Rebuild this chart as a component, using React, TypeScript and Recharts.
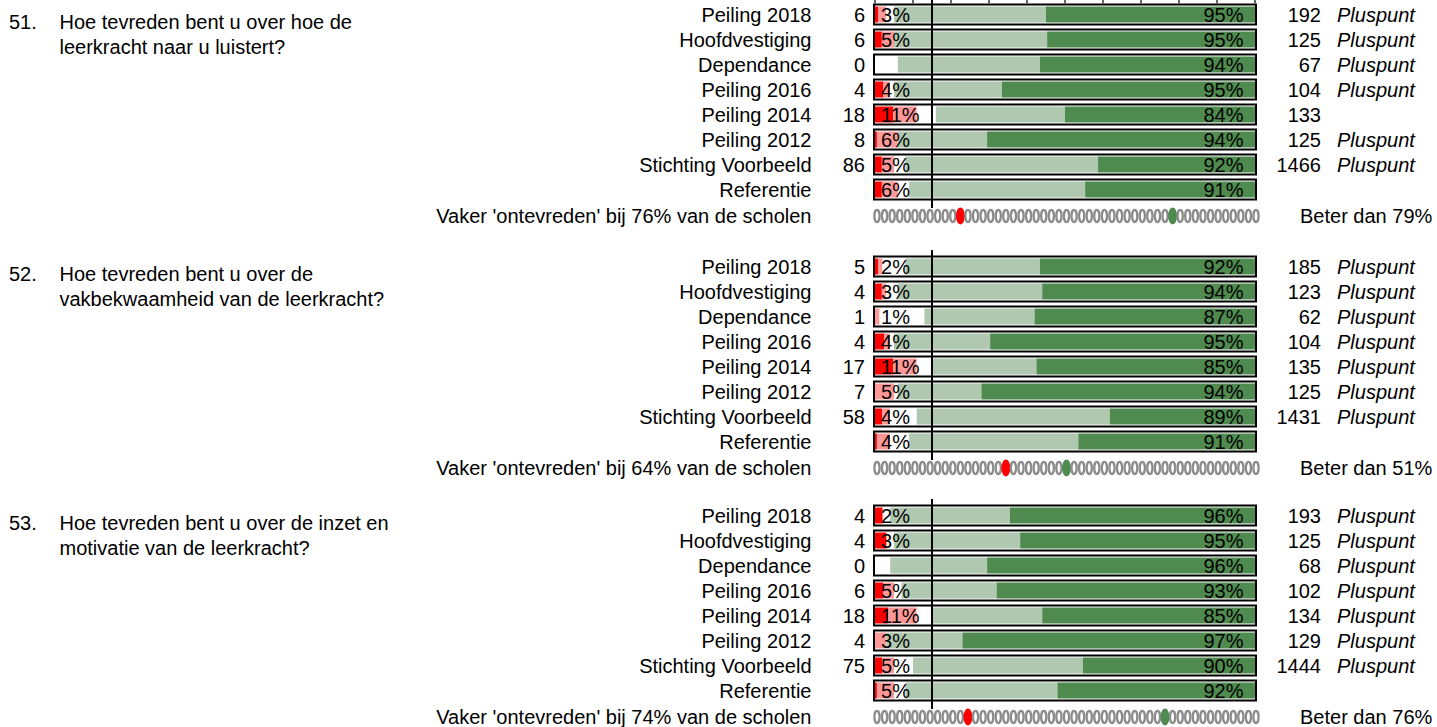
import React from "react";
import {
  BarChart,
  Bar,
  XAxis,
  YAxis,
  ReferenceLine,
  LabelList,
  ScatterChart,
  Scatter,
} from "recharts";

const FONT = "'Liberation Sans', Arial, Helvetica, sans-serif";
const RED = "#ff0000";
const PINK = "#ff9999";
const LIGHT = "#b0c8b0";
const DARK = "#4f8a4f";
const DOT_GREY = "#8c8c8c";

const rowLabels = [
  "Peiling 2018",
  "Hoofdvestiging",
  "Dependance",
  "Peiling 2016",
  "Peiling 2014",
  "Peiling 2012",
  "Stichting Voorbeeld",
  "Referentie",
];
const axisTicks = [0, 10, 20, 30, 40, 50, 60, 70, 80, 90, 100];
const schoolCount = 51;

// vraag 51
const q51Lines = ["Hoe tevreden bent u over hoe de", "leerkracht naar u luistert?"];
const q51Counts = [6, 6, 0, 4, 18, 8, 86, null];
const q51VeryDis = [0.8, 1.8, 0, 2.2, 4.8, 0.5, 1.8, 1.8];
const q51Dis = [2.2, 3.2, 0, 1.8, 6.2, 5.5, 3.2, 4.2];
const q51Neutral = [2, 0, 6, 1, 5, 0, 3, 3];
const q51Sat = [40, 40.3, 37.4, 28.4, 34, 23.5, 50.7, 46.3];
const q51VerySat = [55, 54.7, 56.6, 66.6, 50, 70.5, 41.3, 44.7];
const q51N = [192, 125, 67, 104, 133, 125, 1466, null];
const q51Plus = ["Pluspunt", "Pluspunt", "Pluspunt", "Pluspunt", "", "Pluspunt", "Pluspunt", ""];

// vraag 52
const q52Lines = ["Hoe tevreden bent u over de", "vakbekwaamheid van de leerkracht?"];
const q52Counts = [5, 4, 1, 4, 17, 7, 58, null];
const q52VeryDis = [0.8, 1.8, 0, 2.4, 4.8, 0, 1.9, 0.5];
const q52Dis = [1.2, 1.2, 1.2, 1.6, 6.2, 5, 2.1, 3.5];
const q52Neutral = [6, 3, 11.8, 1, 4, 1, 7, 5];
const q52Sat = [35.4, 38, 29, 25.3, 27.5, 22, 50.8, 44.5];
const q52VerySat = [56.6, 56, 58, 69.7, 57.5, 72, 38.2, 46.5];
const q52N = [185, 123, 62, 104, 135, 125, 1431, null];
const q52Plus = ["Pluspunt", "Pluspunt", "Pluspunt", "Pluspunt", "Pluspunt", "Pluspunt", "Pluspunt", ""];

// vraag 53
const q53Lines = ["Hoe tevreden bent u over de inzet en", "motivatie van de leerkracht?"];
const q53Counts = [4, 4, 0, 6, 18, 4, 75, null];
const q53VeryDis = [2, 3, 0, 2.2, 3.5, 0, 1.9, 0.5];
const q53Dis = [0.2, 0.2, 0, 2.8, 7.5, 3, 3.1, 4.5];
const q53Neutral = [1.8, 1.8, 4, 2, 4, 0, 5, 3];
const q53Sat = [31.5, 33.2, 25.5, 25, 29, 20, 44.7, 40];
const q53VerySat = [64.5, 61.8, 70.5, 68, 56, 77, 45.3, 52];
const q53N = [193, 125, 68, 102, 134, 129, 1444, null];
const q53Plus = ["Pluspunt", "Pluspunt", "Pluspunt", "Pluspunt", "Pluspunt", "Pluspunt", "Pluspunt", ""];

const txt = { fontFamily: FONT, fontSize: 20, fill: "#000" };

function rectOf(p: any) {
  return p.viewBox && p.viewBox.width !== undefined ? p.viewBox : p;
}

function BoxShape(p: any) {
  return (
    <rect
      x={p.x - 1}
      y={p.y - 2}
      width={p.width + 2}
      height={p.height + 4}
      fill="none"
      stroke="#000"
      strokeWidth={2}
    />
  );
}

// label 'ontevreden' hangs on the pink bar, moved back to the start of the row
function OnteLabel(p: any) {
  const row = p.value;
  if (!row || typeof row !== "object" || !row.onte || !row.dis) return null;
  const r = rectOf(p);
  const unit = r.width / row.dis;
  const left = r.x - row.veryDis * unit;
  return (
    <text x={left + 6} y={r.y + r.height / 2 + 7.6} {...txt}>
      {row.onte}%
    </text>
  );
}

function TevrLabel(p: any) {
  const r = rectOf(p);
  return (
    <text x={r.x + r.width - 11.5} y={r.y + r.height / 2 + 7.6} textAnchor="end" {...txt}>
      {p.value}%
    </text>
  );
}

function NLabel(p: any) {
  if (p.value == null) return null;
  const r = rectOf(p);
  return (
    <text x={r.x + r.width + 66} y={r.y + r.height / 2 + 7.6} textAnchor="end" {...txt}>
      {p.value}
    </text>
  );
}

function PlusLabel(p: any) {
  if (!p.value) return null;
  const r = rectOf(p);
  return (
    <text x={r.x + r.width + 82} y={r.y + r.height / 2 + 7.6} fontStyle="italic" {...txt}>
      {p.value}
    </text>
  );
}

function TopTick(p: any) {
  return <line x1={p.x} x2={p.x} y1={p.y + 2} y2={p.y + 5.3} stroke="#000" strokeWidth={1.2} />;
}

function DotShape(p: any) {
  const kind = p.payload.kind;
  if (kind === "grey") {
    return <ellipse cx={p.cx} cy={p.cy} rx={2.6} ry={6.1} fill="none" stroke={DOT_GREY} strokeWidth={2.3} />;
  }
  return <ellipse cx={p.cx} cy={p.cy} rx={4.5} ry={8.5} fill={kind === "red" ? RED : DARK} />;
}

interface QuestionProps {
  top: number;
  num: number;
  lines: string[];
  counts: (number | null)[];
  veryDis: number[];
  dis: number[];
  neutral: number[];
  sat: number[];
  verySat: number[];
  n: (number | null)[];
  plus: string[];
  vaker: number;
  beter: number;
  redDot: number;
  greenDot: number;
  showTicks?: boolean;
}

function Question(q: QuestionProps) {
  const rows = rowLabels.map((name, i) => ({
    name,
    count: q.counts[i],
    veryDis: q.veryDis[i],
    dis: q.dis[i],
    neutral: q.neutral[i],
    sat: q.sat[i],
    verySat: q.verySat[i],
    n: q.n[i],
    plus: q.plus[i],
    onte: Math.round(q.veryDis[i] + q.dis[i]),
    tevr: Math.round(q.sat[i] + q.verySat[i]),
  }));

  const dots = Array.from({ length: schoolCount }, (_, i) => ({
    pos: i,
    y: 0,
    kind: i === q.redDot ? "red" : i === q.greenDot ? "green" : "grey",
  }));

  const RowTick = (p: any) => {
    const row = rows.find((r) => r.name === p.payload.value);
    return (
      <g>
        <text x={811.5} y={p.y + 7.6} textAnchor="end" {...txt}>
          {p.payload.value}
        </text>
        {row && row.count != null && (
          <text x={p.x - 10} y={p.y + 7.6} textAnchor="end" {...txt}>
            {row.count}
          </text>
        )}
      </g>
    );
  };

  const htmlText: React.CSSProperties = {
    position: "absolute",
    fontFamily: FONT,
    fontSize: 20,
    lineHeight: "25px",
    color: "#000",
    whiteSpace: "nowrap",
  };

  return (
    <div style={{ position: "absolute", left: 0, top: q.top, width: 1437, height: 251 }}>
      <div style={{ ...htmlText, left: 9, top: 9.5 }}>{q.num}.</div>
      <div style={{ ...htmlText, left: 59.5, top: 9.5 }}>
        {q.lines.map((l) => (
          <div key={l}>{l}</div>
        ))}
      </div>

      <div style={{ position: "absolute", left: 0, top: -4 }}>
        <BarChart
          layout="vertical"
          width={1437}
          height={216}
          data={rows}
          margin={{ top: 0, right: 182, bottom: 4, left: 0 }}
        >
          <XAxis
            type="number"
            orientation="top"
            domain={[0, 100]}
            allowDataOverflow
            ticks={axisTicks}
            height={2}
            axisLine={false}
            tickLine={false}
            tickSize={0}
            tickMargin={0}
            tick={q.showTicks ? TopTick : false}
          />
          <YAxis
            type="category"
            dataKey="name"
            width={875}
            axisLine={false}
            tickLine={false}
            tickSize={0}
            tickMargin={0}
            interval={0}
            padding={{ top: 3.5, bottom: 6.5 }}
            tick={RowTick}
          />
          <Bar dataKey="veryDis" stackId="s" fill={RED} barSize={16} isAnimationActive={false} />
          <Bar dataKey="dis" stackId="s" fill={PINK} barSize={16} isAnimationActive={false}>
            <LabelList dataKey={(d: any) => d} content={OnteLabel} />
          </Bar>
          <Bar dataKey="neutral" stackId="s" fill="#ffffff" barSize={16} isAnimationActive={false} />
          <Bar dataKey="sat" stackId="s" fill={LIGHT} barSize={16} isAnimationActive={false} />
          <Bar
            dataKey="verySat"
            stackId="s"
            fill={DARK}
            barSize={16}
            isAnimationActive={false}
            background={BoxShape}
          >
            <LabelList dataKey="tevr" content={TevrLabel} />
            <LabelList dataKey="n" content={NLabel} />
            <LabelList dataKey="plus" content={PlusLabel} />
          </Bar>
          <ReferenceLine x={15} stroke="#000" strokeWidth={2} />
        </BarChart>
      </div>

      <div style={{ ...htmlText, lineHeight: "20px", left: 0, width: 811.5, textAlign: "right", top: 205.8 }}>
        Vaker 'ontevreden' bij {q.vaker}% van de scholen
      </div>
      <div style={{ ...htmlText, lineHeight: "20px", left: 1300, top: 205.8 }}>Beter dan {q.beter}%</div>

      <div style={{ position: "absolute", left: 0, top: 204.3 }}>
        <ScatterChart width={1437} height={24} margin={{ top: 0, right: 181, bottom: 0, left: 877 }}>
          <XAxis type="number" dataKey="pos" domain={[0, schoolCount - 1]} hide />
          <YAxis type="number" dataKey="y" domain={[-1, 1]} hide />
          <Scatter data={dots} shape={DotShape} isAnimationActive={false} />
        </ScatterChart>
      </div>
    </div>
  );
}

export default function App() {
  return (
    <div
      style={{
        position: "absolute",
        left: 0,
        top: 0,
        width: 1437,
        height: 727,
        background: "#fff",
        overflow: "hidden",
      }}
    >
      <Question
        top={0}
        num={51}
        lines={q51Lines}
        counts={q51Counts}
        veryDis={q51VeryDis}
        dis={q51Dis}
        neutral={q51Neutral}
        sat={q51Sat}
        verySat={q51VerySat}
        n={q51N}
        plus={q51Plus}
        vaker={76}
        beter={79}
        redDot={11}
        greenDot={39}
        showTicks
      />
      <Question
        top={252}
        num={52}
        lines={q52Lines}
        counts={q52Counts}
        veryDis={q52VeryDis}
        dis={q52Dis}
        neutral={q52Neutral}
        sat={q52Sat}
        verySat={q52VerySat}
        n={q52N}
        plus={q52Plus}
        vaker={64}
        beter={51}
        redDot={17}
        greenDot={25}
      />
      <Question
        top={501}
        num={53}
        lines={q53Lines}
        counts={q53Counts}
        veryDis={q53VeryDis}
        dis={q53Dis}
        neutral={q53Neutral}
        sat={q53Sat}
        verySat={q53VerySat}
        n={q53N}
        plus={q53Plus}
        vaker={74}
        beter={76}
        redDot={12}
        greenDot={38}
      />
    </div>
  );
}
